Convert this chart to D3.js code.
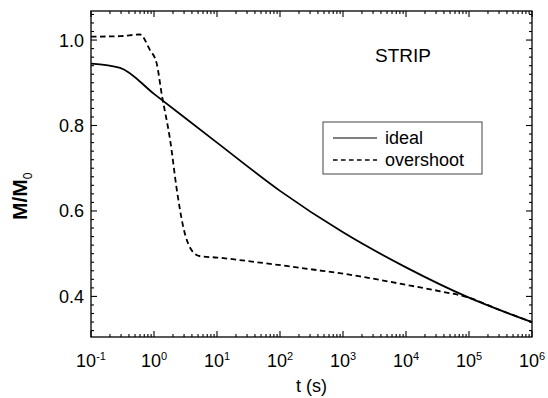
<!DOCTYPE html>
<html><head><meta charset="utf-8">
<script src="https://cdn.jsdelivr.net/npm/d3@7"></script>
<style>
body{margin:0;background:#fff}
svg{display:block}
text{font-family:"Liberation Sans",Arial,Helvetica,sans-serif;fill:#000}
</style>
</head><body>
<svg id="chart" width="548" height="398"></svg>
<script>
// ---- data ----
const idealT = [0.1, 0.29, 1, 10, 100, 1000, 1e4, 1e5, 1e6];
const idealM = [0.945, 0.935, 0.874, 0.760, 0.647, 0.550, 0.468, 0.397, 0.340];
const overT = [0.1, 0.29, 0.6, 0.86, 1.1, 1.33, 1.8, 2.3, 2.9, 4.2, 5.4, 10, 43, 330, 1860, 7900, 35000, 95000, 310000, 1e6];
const overM = [1.008, 1.009, 1.013, 0.977, 0.946, 0.872, 0.767, 0.65, 0.564, 0.503, 0.494, 0.491, 0.48, 0.463, 0.447, 0.43, 0.412, 0.398, 0.368, 0.34];
const xTickExp = [-1, 0, 1, 2, 3, 4, 5, 6];
const yTickLabels = ["0.4", "0.6", "0.8", "1.0"];
const seriesNames = ["ideal", "overshoot"];
const annotation = "STRIP";

// ---- layout ----
const L = 91, R = 532, T = 11, B = 337;
const svg = d3.select("#chart");
const x = d3.scaleLog().domain([0.1, 1e6]).range([L, R]);
const y = d3.scaleLinear().domain([0.305, 1.068]).range([B, T]);

// frame
svg.append("rect").attr("x", L).attr("y", T).attr("width", R - L).attr("height", B - T)
  .attr("fill", "none").attr("stroke", "#000").attr("stroke-width", 1.3);

// ticks, inward on all four sides
const majorX = xTickExp.map(e => Math.pow(10, e));
const minorX = [];
for (let e = -1; e < 6; e++) for (let k = 2; k <= 9; k++) minorX.push(k * Math.pow(10, e));
const tk = svg.append("g").attr("stroke", "#000").attr("stroke-width", 1.1);
majorX.forEach(v => {
  tk.append("line").attr("x1", x(v)).attr("x2", x(v)).attr("y1", B).attr("y2", B - 6);
  tk.append("line").attr("x1", x(v)).attr("x2", x(v)).attr("y1", T).attr("y2", T + 6);
});
minorX.forEach(v => {
  tk.append("line").attr("x1", x(v)).attr("x2", x(v)).attr("y1", B).attr("y2", B - 3);
  tk.append("line").attr("x1", x(v)).attr("x2", x(v)).attr("y1", T).attr("y2", T + 3);
});
const majorY = yTickLabels.map(Number);
const minorY = d3.range(0.32, 1.07, 0.02).filter(v => !majorY.some(m => Math.abs(m - v) < 1e-6));
majorY.forEach(v => {
  tk.append("line").attr("x1", L).attr("x2", L + 6).attr("y1", y(v)).attr("y2", y(v));
  tk.append("line").attr("x1", R).attr("x2", R - 6).attr("y1", y(v)).attr("y2", y(v));
});
minorY.forEach(v => {
  tk.append("line").attr("x1", L).attr("x2", L + 3).attr("y1", y(v)).attr("y2", y(v));
  tk.append("line").attr("x1", R).attr("x2", R - 3).attr("y1", y(v)).attr("y2", y(v));
});

// x tick labels
xTickExp.forEach(e => {
  const t = svg.append("text").attr("x", x(Math.pow(10, e))).attr("y", 367)
    .attr("text-anchor", "middle").attr("font-size", 18);
  t.append("tspan").text("10");
  t.append("tspan").attr("font-size", 11).attr("dy", -7).text(String(e));
});
// y tick labels
yTickLabels.forEach(s => {
  svg.append("text").attr("x", L - 7).attr("y", y(+s) + 6.5).attr("text-anchor", "end")
    .attr("font-size", 18).text(s);
});

// axis titles
svg.append("text").attr("x", (L + R) / 2).attr("y", 392).attr("text-anchor", "middle")
  .attr("font-size", 18).text("t (s)");
const yt = svg.append("text").attr("transform", "translate(27,220) rotate(-90)")
  .attr("text-anchor", "start").attr("font-size", 21).attr("font-weight", "bold");
yt.append("tspan").text("M/M");
yt.append("tspan").attr("font-size", 12).attr("font-weight", "normal").attr("dy", 5).text("0");

// lines
const line = d3.line().x(d => x(d[0])).y(d => y(d[1])).curve(d3.curveMonotoneX);
const idealData = idealT.map((t, i) => [t, idealM[i]]);
const overData = overT.map((t, i) => [t, overM[i]]);
svg.append("path").attr("d", line(idealData)).attr("fill", "none")
  .attr("stroke", "#000").attr("stroke-width", 1.8);
svg.append("path").attr("d", line(overData)).attr("fill", "none")
  .attr("stroke", "#000").attr("stroke-width", 1.8).attr("stroke-dasharray", "5.5,3.5");

// annotation
svg.append("text").attr("x", 375).attr("y", 62).attr("font-size", 19).text(annotation);

// legend
const lg = svg.append("g");
lg.append("rect").attr("x", 323).attr("y", 122).attr("width", 159).attr("height", 52)
  .attr("fill", "#fff").attr("stroke", "#444").attr("stroke-width", 1);
[0, 1].forEach(i => {
  const yy = 138 + i * 22;
  lg.append("line").attr("x1", 333).attr("x2", 377).attr("y1", yy).attr("y2", yy)
    .attr("stroke", "#000").attr("stroke-width", i ? 1.6 : 1.2)
    .attr("stroke-dasharray", i ? "4.5,3.5" : null);
  lg.append("text").attr("x", 385).attr("y", yy + 6).attr("font-size", 18).text(seriesNames[i]);
});
</script>
</body></html>
